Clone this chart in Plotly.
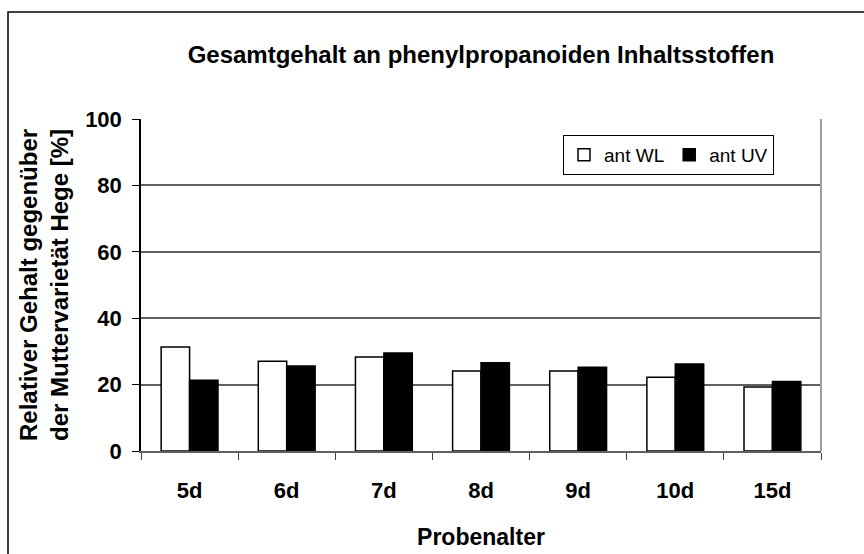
import plotly.graph_objects as go

categories = ["5d", "6d", "7d", "8d", "9d", "10d", "15d"]
ant_wl = [31.3, 27.0, 28.3, 24.1, 24.1, 22.2, 19.3]
ant_uv = [21.3, 25.6, 29.5, 26.6, 25.2, 26.2, 20.9]
y_ticks = [0, 20, 40, 60, 80, 100]

font = "Liberation Sans, Arial, sans-serif"

fig = go.Figure()
fig.add_trace(go.Bar(x=categories, y=ant_wl, name="ant WL",
                     marker=dict(color="white", line=dict(color="black", width=1.5))))
fig.add_trace(go.Bar(x=categories, y=ant_uv, name="ant UV",
                     marker=dict(color="black", line=dict(color="black", width=1.5))))

fig.update_layout(
    width=864, height=554,
    margin=dict(l=141, r=43, t=119, b=103),
    paper_bgcolor="white", plot_bgcolor="white",
    font=dict(family=font, color="black"),
    barmode="group", bargap=0.415, bargroupgap=0,
    title=dict(text="Gesamtgehalt an phenylpropanoiden Inhaltsstoffen",
               font=dict(size=24, weight="bold"), x=0.5, xref="paper",
               y=1 - 55 / 554, yref="container", yanchor="middle"),
    legend=dict(orientation="h", x=0.6206, y=0.9518, xanchor="left", yanchor="top",
                bordercolor="black", borderwidth=1, bgcolor="white",
                font=dict(size=19), traceorder="normal"),
    showlegend=True,
)

fig.update_xaxes(
    type="category", tickson="boundaries", ticks="outside", ticklen=7,
    tickcolor="#404040", showline=True, linecolor="#606060", linewidth=2,
    tickfont=dict(size=22, weight="bold"), ticklabelstandoff=19, showgrid=False,
    title=dict(text="Probenalter", font=dict(size=23, weight="bold"), standoff=26),
    automargin=False,
)
fig.update_yaxes(
    range=[0, 100], tickvals=y_ticks, ticks="outside", ticklen=7, tickcolor="black",
    showline=True, linecolor="black", linewidth=1.5,
    showgrid=True, gridcolor="#606060", gridwidth=1.5, zeroline=False,
    tickfont=dict(size=22, weight="bold"), ticklabelstandoff=6,
    automargin=False,
)

# y axis title as two lines
fig.add_annotation(
    text="Relativer Gehalt gegenüber<br>der Muttervarietät Hege [%]",
    xref="paper", yref="paper", x=(44 - 141) / 680, y=0.5,
    textangle=-90, showarrow=False, font=dict(size=24, weight="bold"),
    xanchor="center", yanchor="middle",
)

# right edge of plot area and outer chart frame
fig.add_shape(type="line", xref="paper", yref="paper", x0=1, x1=1, y0=0, y1=1,
              line=dict(color="#a0a0a0", width=2))
fig.add_shape(type="rect", xref="paper", yref="paper",
              x0=(8 - 141) / 680, x1=(880 - 141) / 680,
              y0=(451 - 570) / 332, y1=(451 - 12) / 332,
              line=dict(color="black", width=1.5), layer="below")

fig.write_html("out.html", config={"displayModeBar": False},
               post_script="document.body.style.margin='0';")
